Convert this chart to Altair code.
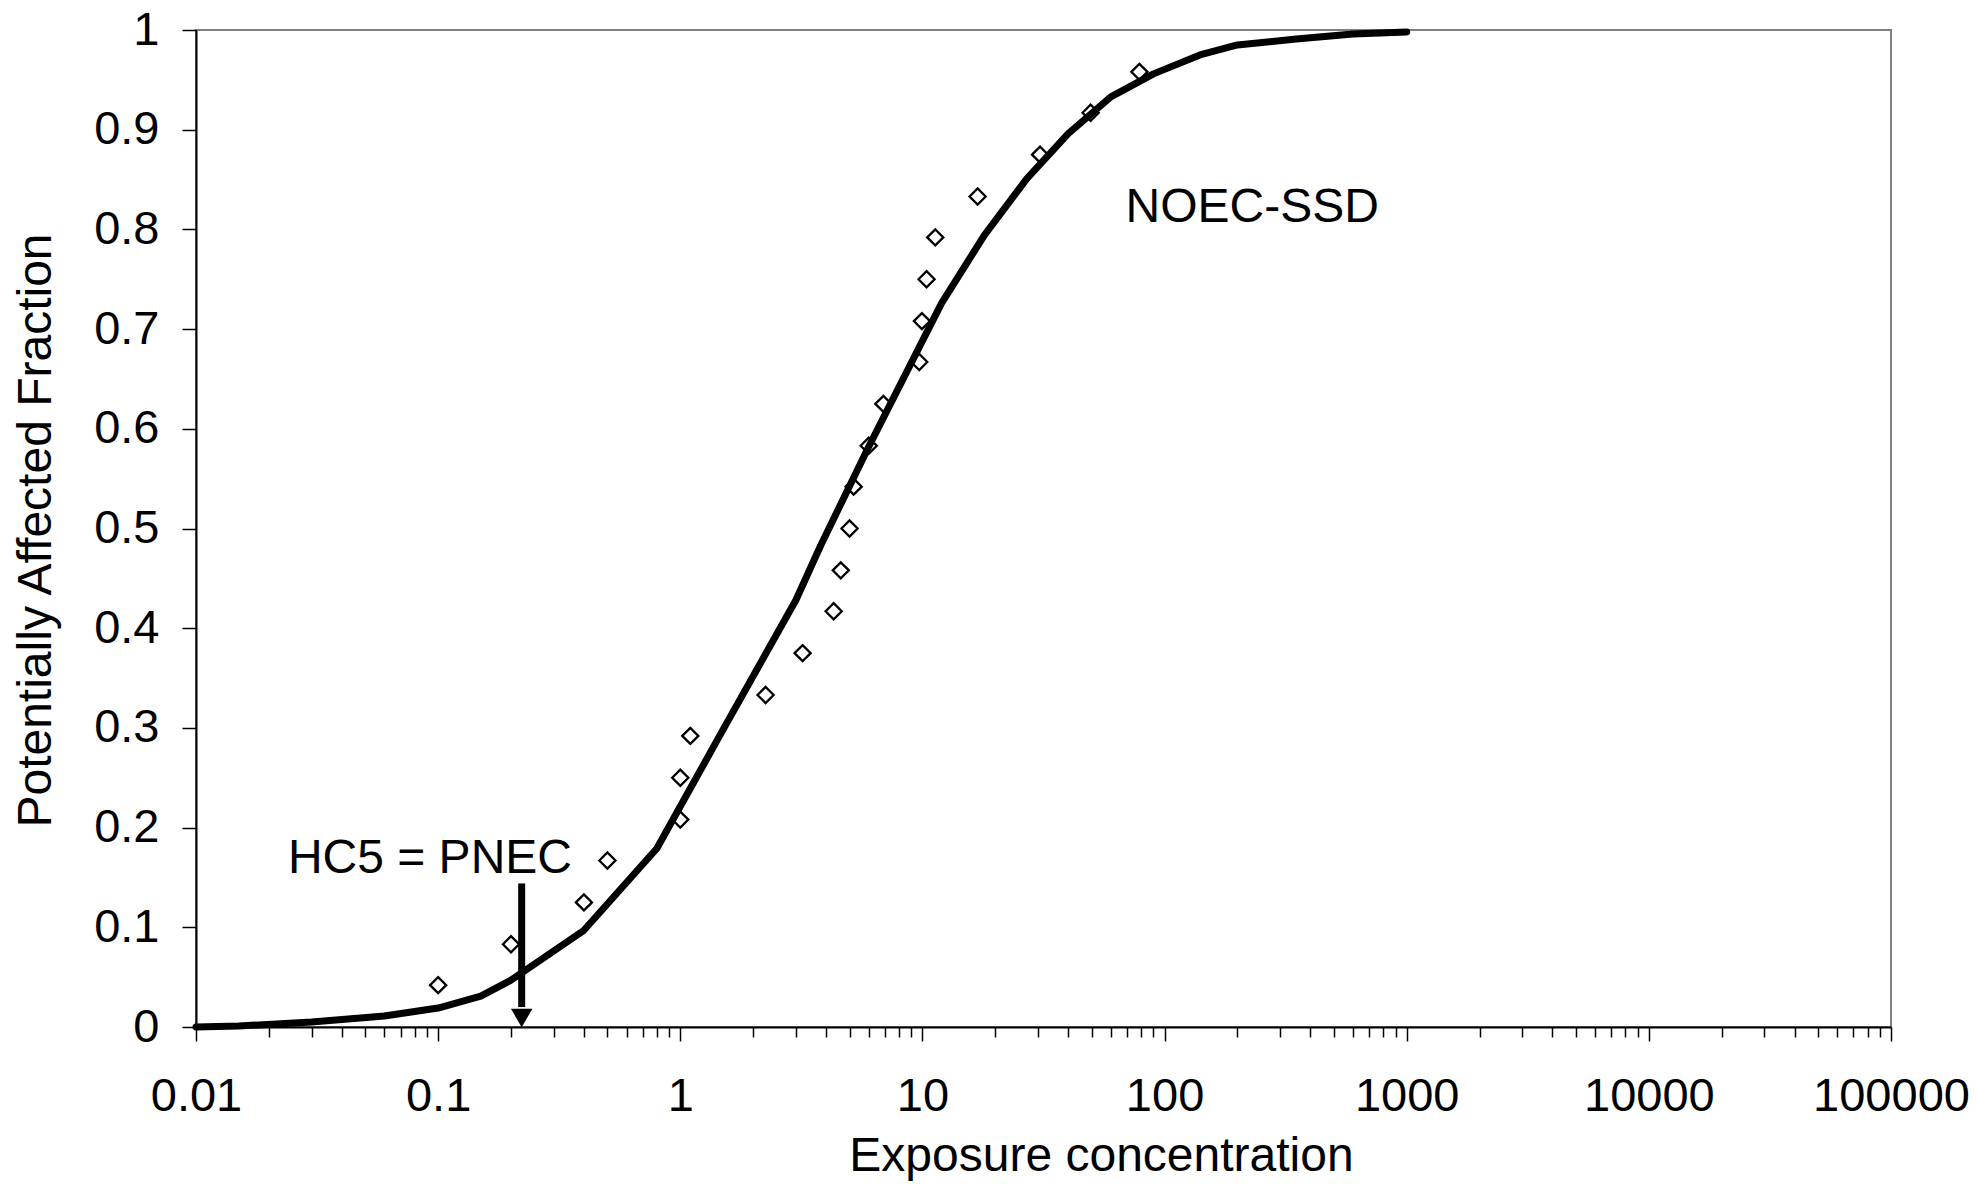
import altair as alt
import pandas as pd

# ---- data ----
curve_x = [0.01, 0.015, 0.03, 0.06, 0.1, 0.15, 0.2, 0.4, 0.8, 1.5, 3, 3.8, 6, 12, 18, 27, 40, 60, 90, 140, 200, 350, 600, 1000]
curve_y = [0.000, 0.001, 0.005, 0.011, 0.019, 0.031, 0.047, 0.097, 0.179, 0.298, 0.428, 0.483, 0.582, 0.726, 0.794, 0.851, 0.896, 0.933, 0.956, 0.975, 0.985, 0.991, 0.996, 0.998]

pt_x = [0.1, 0.2, 0.4, 0.5, 1.0, 1.0, 1.1, 2.25, 3.2, 4.3, 4.6, 5.0, 5.2, 6.0, 6.9, 9.7, 9.95, 10.4, 11.3, 16.9, 30.6, 49.5, 78.7]
pt_y = [0.042, 0.083, 0.125, 0.167, 0.208, 0.25, 0.292, 0.333, 0.375, 0.417, 0.458, 0.5, 0.542, 0.583,
        0.625, 0.667, 0.708, 0.75, 0.792, 0.833, 0.875, 0.917, 0.958]

x_major = [0.01, 0.1, 1, 10, 100, 1000, 10000, 100000]
x_minor = [m * d for d in [0.01, 0.1, 1, 10, 100, 1000, 10000] for m in range(2, 10)]
y_ticks = [0, 0.1, 0.2, 0.3, 0.4, 0.5, 0.6, 0.7, 0.8, 0.9, 1]

ann_label = ["HC5 = PNEC", "NOEC-SSD"]
ann_x = [0.0925, 230]
ann_y = [0.154, 0.807]

arrow_x = [0.2213]
arrow_top = [0.144]
arrow_bottom = [0.02]
arrow_head_y = [0.009]

FONT = "Liberation Sans"
FS = 47
TFS = 48

curve_df = pd.DataFrame({"x": curve_x, "y": curve_y})
pts_df = pd.DataFrame({"x": pt_x, "y": pt_y})
ann_df = pd.DataFrame({"x": ann_x, "y": ann_y, "label": ann_label})
arrow_df = pd.DataFrame({"x": arrow_x, "y": arrow_top, "y2": arrow_bottom, "yh": arrow_head_y})

xscale = alt.Scale(type="log", domain=[0.01, 100000], nice=False)
yscale = alt.Scale(domain=[0, 1], nice=False, zero=False)

y_axis = alt.Axis(
    values=y_ticks, format="~g", grid=False,
    tickSize=14, tickWidth=1.5, tickColor="black",
    domainColor="black", domainWidth=2,
    labelFont=FONT, labelFontSize=FS, labelColor="black", labelPadding=23,
    title="Potentially Affected Fraction", titleFont=FONT, titleFontSize=TFS,
    titleFontWeight="normal", titleColor="black",
    titleAngle=270, titleX=-146, titleY=500, titleAlign="center", titleBaseline="alphabetic",
)


def yenc(field="y"):
    return alt.Y(f"{field}:Q", scale=yscale, axis=y_axis)


x_axis_major = alt.Axis(
    values=x_major, format="~g", grid=False, orient="bottom",
    tickSize=14, tickWidth=1.5, tickColor="black",
    domainColor="black", domainWidth=2,
    labelFont=FONT, labelFontSize=FS, labelColor="black",
    labelBaseline="alphabetic", labelPadding=69, labelFlush=False, labelOverlap=False,
    title="Exposure concentration", titleFont=FONT, titleFontSize=TFS,
    titleFontWeight="normal", titleColor="black",
    titleX=905, titleY=143, titleAlign="center", titleBaseline="alphabetic",
)

x_axis_minor = alt.Axis(
    values=x_minor, labels=False, grid=False, domain=False, orient="bottom",
    tickSize=10, tickWidth=1.5, tickColor="black", title="",
)

line = alt.Chart(curve_df).mark_line(color="black", strokeWidth=7, strokeCap="round", strokeJoin="round").encode(
    x=alt.X("x:Q", scale=xscale, axis=x_axis_major),
    y=yenc(),
)

points = alt.Chart(pts_df).mark_point(shape="diamond", filled=False, color="black", strokeWidth=2.3, size=260, opacity=1).encode(
    x=alt.X("x:Q", scale=xscale, axis=x_axis_minor),
    y=yenc(),
)

texts = alt.Chart(ann_df).mark_text(font=FONT, fontSize=TFS, color="black", align="center", baseline="alphabetic").encode(
    x=alt.X("x:Q", scale=xscale, axis=None),
    y=yenc(),
    text="label:N",
)

arrow_line = alt.Chart(arrow_df).mark_rule(color="black", strokeWidth=7).encode(
    x=alt.X("x:Q", scale=xscale, axis=None),
    y=yenc(),
    y2="y2:Q",
)

arrow_head = alt.Chart(arrow_df).mark_point(shape="triangle-down", filled=True, color="black", size=460, opacity=1).encode(
    x=alt.X("x:Q", scale=xscale, axis=None),
    y=yenc("yh"),
)

chart = alt.layer(line, points, arrow_line, arrow_head, texts).resolve_axis(x="independent").properties(
    width=1695, height=997,
    autosize="none",
    padding={"left": 188, "top": 22, "right": 79, "bottom": 154},
    background="white",
).configure_view(stroke="#808080", strokeWidth=2)

chart.save("out.html", embed_options={"renderer": "svg", "actions": False})
